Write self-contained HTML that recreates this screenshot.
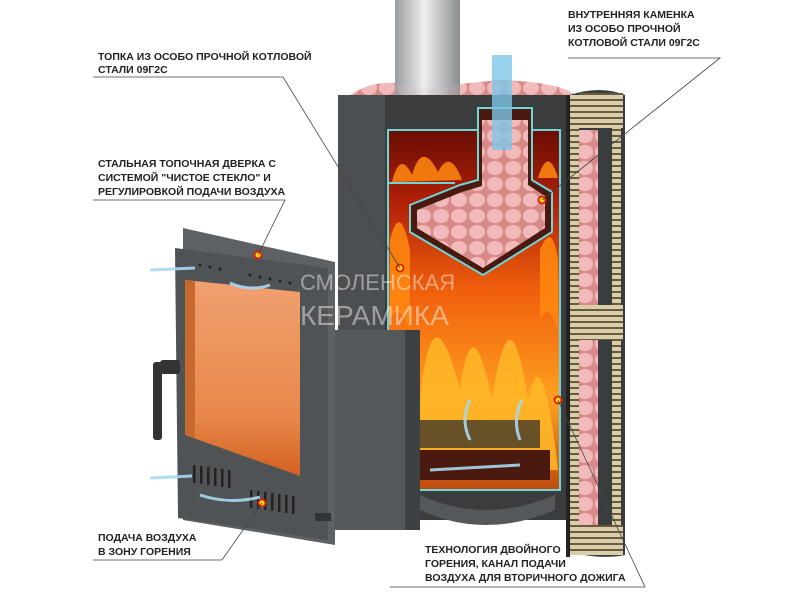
<!DOCTYPE html>
<html><head><meta charset="utf-8"><style>
body{margin:0;background:#fff;}
svg text{font-family:"Liberation Sans","DejaVu Sans",sans-serif;font-weight:bold;font-size:10.5px;fill:#222;}
</style></head><body>
<svg width="800" height="600" viewBox="0 0 800 600" xmlns="http://www.w3.org/2000/svg">
<defs>
<linearGradient id="fire" x1="0" y1="0" x2="0" y2="1">
<stop offset="0" stop-color="#6a0e04"/><stop offset="0.2" stop-color="#b02008"/><stop offset="0.45" stop-color="#f0600c"/><stop offset="0.75" stop-color="#ffa020"/><stop offset="1" stop-color="#c04a10"/>
</linearGradient>
<linearGradient id="glass" x1="0" y1="0" x2="0" y2="1">
<stop offset="0" stop-color="#f0a070"/><stop offset="0.7" stop-color="#e8884a"/><stop offset="1" stop-color="#d06020"/>
</linearGradient>
<linearGradient id="chim" x1="0" x2="1">
<stop offset="0" stop-color="#9a9da0"/><stop offset="0.45" stop-color="#eceeef"/><stop offset="1" stop-color="#8a8d90"/>
</linearGradient>
<pattern id="rib" width="8" height="6" patternUnits="userSpaceOnUse">
<rect width="8" height="6" fill="#d8cfa8"/><rect y="3" width="8" height="2" fill="#6a5a40"/>
</pattern>
<pattern id="stones" width="18" height="16" patternUnits="userSpaceOnUse">
<rect width="18" height="16" fill="#d88a8a"/><ellipse cx="9" cy="8" rx="8" ry="7" fill="#f2baba"/>
</pattern>
</defs>
<rect x="395" y="0" width="65" height="135" fill="url(#chim)"/>
<path d="M350 95 Q380 75 420 88 L500 80 Q560 82 575 95 L575 140 L350 140 Z" fill="url(#stones)"/>
<rect x="395" y="60" width="65" height="75" fill="url(#chim)" opacity="0.85"/>
<path d="M385 95 L575 95 L575 520 L385 520 Z" fill="#3a3c3e"/>
<rect x="388" y="130" width="172" height="360" fill="url(#fire)"/>
<g opacity="0.85">
<path d="M392 182 Q400 150 412 175 Q422 140 438 172 Q450 148 462 180 Z" fill="#ff8a10"/>
<path d="M538 178 Q548 145 558 178 Z" fill="#ff8a10"/>
<path d="M390 240 Q400 200 410 250 L410 330 Q398 300 390 320 Z" fill="#ff8a10"/>
<path d="M540 250 Q552 220 558 260 L558 330 Q548 300 540 320 Z" fill="#ff8a10"/>
<path d="M392 470 Q400 330 420 400 Q432 280 460 390 Q472 300 492 400 Q510 280 528 400 Q542 330 558 470 Z" fill="#ffb828"/>
</g>
<line x1="388" y1="183" x2="455" y2="183" stroke="#6fd5d5" stroke-width="2"/>
<rect x="388" y="130" width="172" height="360" fill="none" stroke="#6fd5d5" stroke-width="2"/>
<polygon points="478,108 532,108 532,180 552,192 552,232 483,275 410,232 410,205 460,185 478,180" fill="#4a1a10" stroke="#6fd5d5" stroke-width="2"/>
<polygon points="482,120 528,120 528,185 545,196 545,228 483,268 417,228 417,210 462,192 482,186" fill="url(#stones)"/>
<rect x="492" y="55" width="20" height="95" fill="#7cc6e8" opacity="0.8"/>
<rect x="420" y="420" width="120" height="28" fill="#2a2a2a" opacity="0.7"/>
<rect x="400" y="450" width="150" height="30" fill="#4a1a10"/>
<path d="M420 495 Q485 525 555 495 L555 510 Q485 540 420 510 Z" fill="#55585b"/>
<rect x="338" y="95" width="47" height="405" fill="#4c4f52"/>
<path d="M570 95 Q600 85 625 95 L625 555 Q600 560 570 552 Z" fill="#3a3c3e"/>
<rect x="578" y="130" width="20" height="395" fill="url(#stones)"/>
<rect x="570" y="95" width="9" height="460" fill="url(#rib)"/>
<rect x="612" y="95" width="9" height="460" fill="url(#rib)"/>
<rect x="579" y="93" width="44" height="35" fill="url(#rib)"/>
<rect x="579" y="305" width="44" height="35" fill="url(#rib)"/>
<rect x="579" y="525" width="44" height="30" fill="url(#rib)"/>
<rect x="566" y="95" width="4" height="462" fill="#222"/>
<rect x="330" y="330" width="90" height="200" fill="#55585b"/>
<rect x="405" y="330" width="15" height="200" fill="#3e4143"/>
<polygon points="183,228 335,262 335,545 183,520" fill="#5e6164"/>
<polygon points="175,248 328,268 328,540 178,518" fill="#505356"/>
<polygon points="185,280 300,292 300,476 185,435" fill="url(#glass)"/>
<polygon points="185,280 195,281 195,438 185,435" fill="#c86a30"/>
<rect x="153" y="362" width="9" height="78" rx="3" fill="#333"/>
<rect x="160" y="360" width="20" height="14" rx="3" fill="#333"/>
<g fill="#222">
<rect x="193" y="465" width="2.5" height="18"/><rect x="200" y="466" width="2.5" height="18"/><rect x="207" y="467" width="2.5" height="18"/><rect x="214" y="468" width="2.5" height="18"/><rect x="221" y="469" width="2.5" height="18"/><rect x="228" y="470" width="2.5" height="18"/>
<rect x="250" y="490" width="2.5" height="18"/><rect x="257" y="491" width="2.5" height="18"/><rect x="264" y="492" width="2.5" height="18"/><rect x="271" y="493" width="2.5" height="18"/><rect x="278" y="494" width="2.5" height="18"/><rect x="285" y="495" width="2.5" height="18"/><rect x="292" y="496" width="2.5" height="18"/>
<circle cx="200" cy="265" r="1.5"/><circle cx="210" cy="267" r="1.5"/><circle cx="220" cy="269" r="1.5"/><circle cx="250" cy="275" r="1.5"/><circle cx="260" cy="277" r="1.5"/><circle cx="270" cy="279" r="1.5"/><circle cx="280" cy="281" r="1.5"/><circle cx="290" cy="283" r="1.5"/>
</g>
<rect x="315" y="513" width="16" height="8" fill="#333"/>
<g stroke="#a8d8f0" stroke-width="3" fill="none" opacity="0.9">
<path d="M150 270 L195 268"/><path d="M230 283 Q250 292 270 285"/>
<path d="M150 478 L192 476"/><path d="M200 495 Q230 505 260 497"/>
<path d="M430 470 L520 465"/><path d="M470 440 Q460 420 470 400"/><path d="M520 440 Q512 420 522 400"/>
</g>
<text x="300" y="290" style="font-size:22px;font-weight:normal;fill:#fff;opacity:0.45">СМОЛЕНСКАЯ</text>
<text x="300" y="325" style="font-size:28px;font-weight:normal;fill:#fff;opacity:0.45">КЕРАМИКА</text>
<g fill="#ffe000" stroke="#d21" stroke-width="2">
<circle cx="400" cy="268" r="3.5"/><circle cx="258" cy="255" r="3.5"/><circle cx="262" cy="503" r="3.5"/><circle cx="542" cy="200" r="3.5"/><circle cx="558" cy="400" r="3.5"/>
</g>
<g stroke="#444" stroke-width="0.8" fill="none">
<polyline points="93,77 283,77 400,268"/>
<polyline points="93,200 285,200 258,255"/>
<polyline points="93,560 222,560 262,503"/>
<polyline points="568,58 720,58 542,200"/>
<polyline points="390,587 645,587 558,400"/>
</g>
<text x="98" y="60">ТОПКА ИЗ ОСОБО ПРОЧНОЙ КОТЛОВОЙ</text>
<text x="98" y="73">СТАЛИ 09Г2С</text>
<text x="98" y="167">СТАЛЬНАЯ ТОПОЧНАЯ ДВЕРКА С</text>
<text x="98" y="181">СИСТЕМОЙ "ЧИСТОЕ СТЕКЛО" И</text>
<text x="98" y="195">РЕГУЛИРОВКОЙ ПОДАЧИ ВОЗДУХА</text>
<text x="98" y="541">ПОДАЧА ВОЗДУХА</text>
<text x="98" y="555">В ЗОНУ ГОРЕНИЯ</text>
<text x="568" y="18">ВНУТРЕННЯЯ КАМЕНКА</text>
<text x="568" y="32">ИЗ ОСОБО ПРОЧНОЙ</text>
<text x="568" y="46">КОТЛОВОЙ СТАЛИ 09Г2С</text>
<text x="425" y="553">ТЕХНОЛОГИЯ ДВОЙНОГО</text>
<text x="425" y="567">ГОРЕНИЯ, КАНАЛ ПОДАЧИ</text>
<text x="425" y="581">ВОЗДУХА ДЛЯ ВТОРИЧНОГО ДОЖИГА</text>
</svg>
</body></html>
